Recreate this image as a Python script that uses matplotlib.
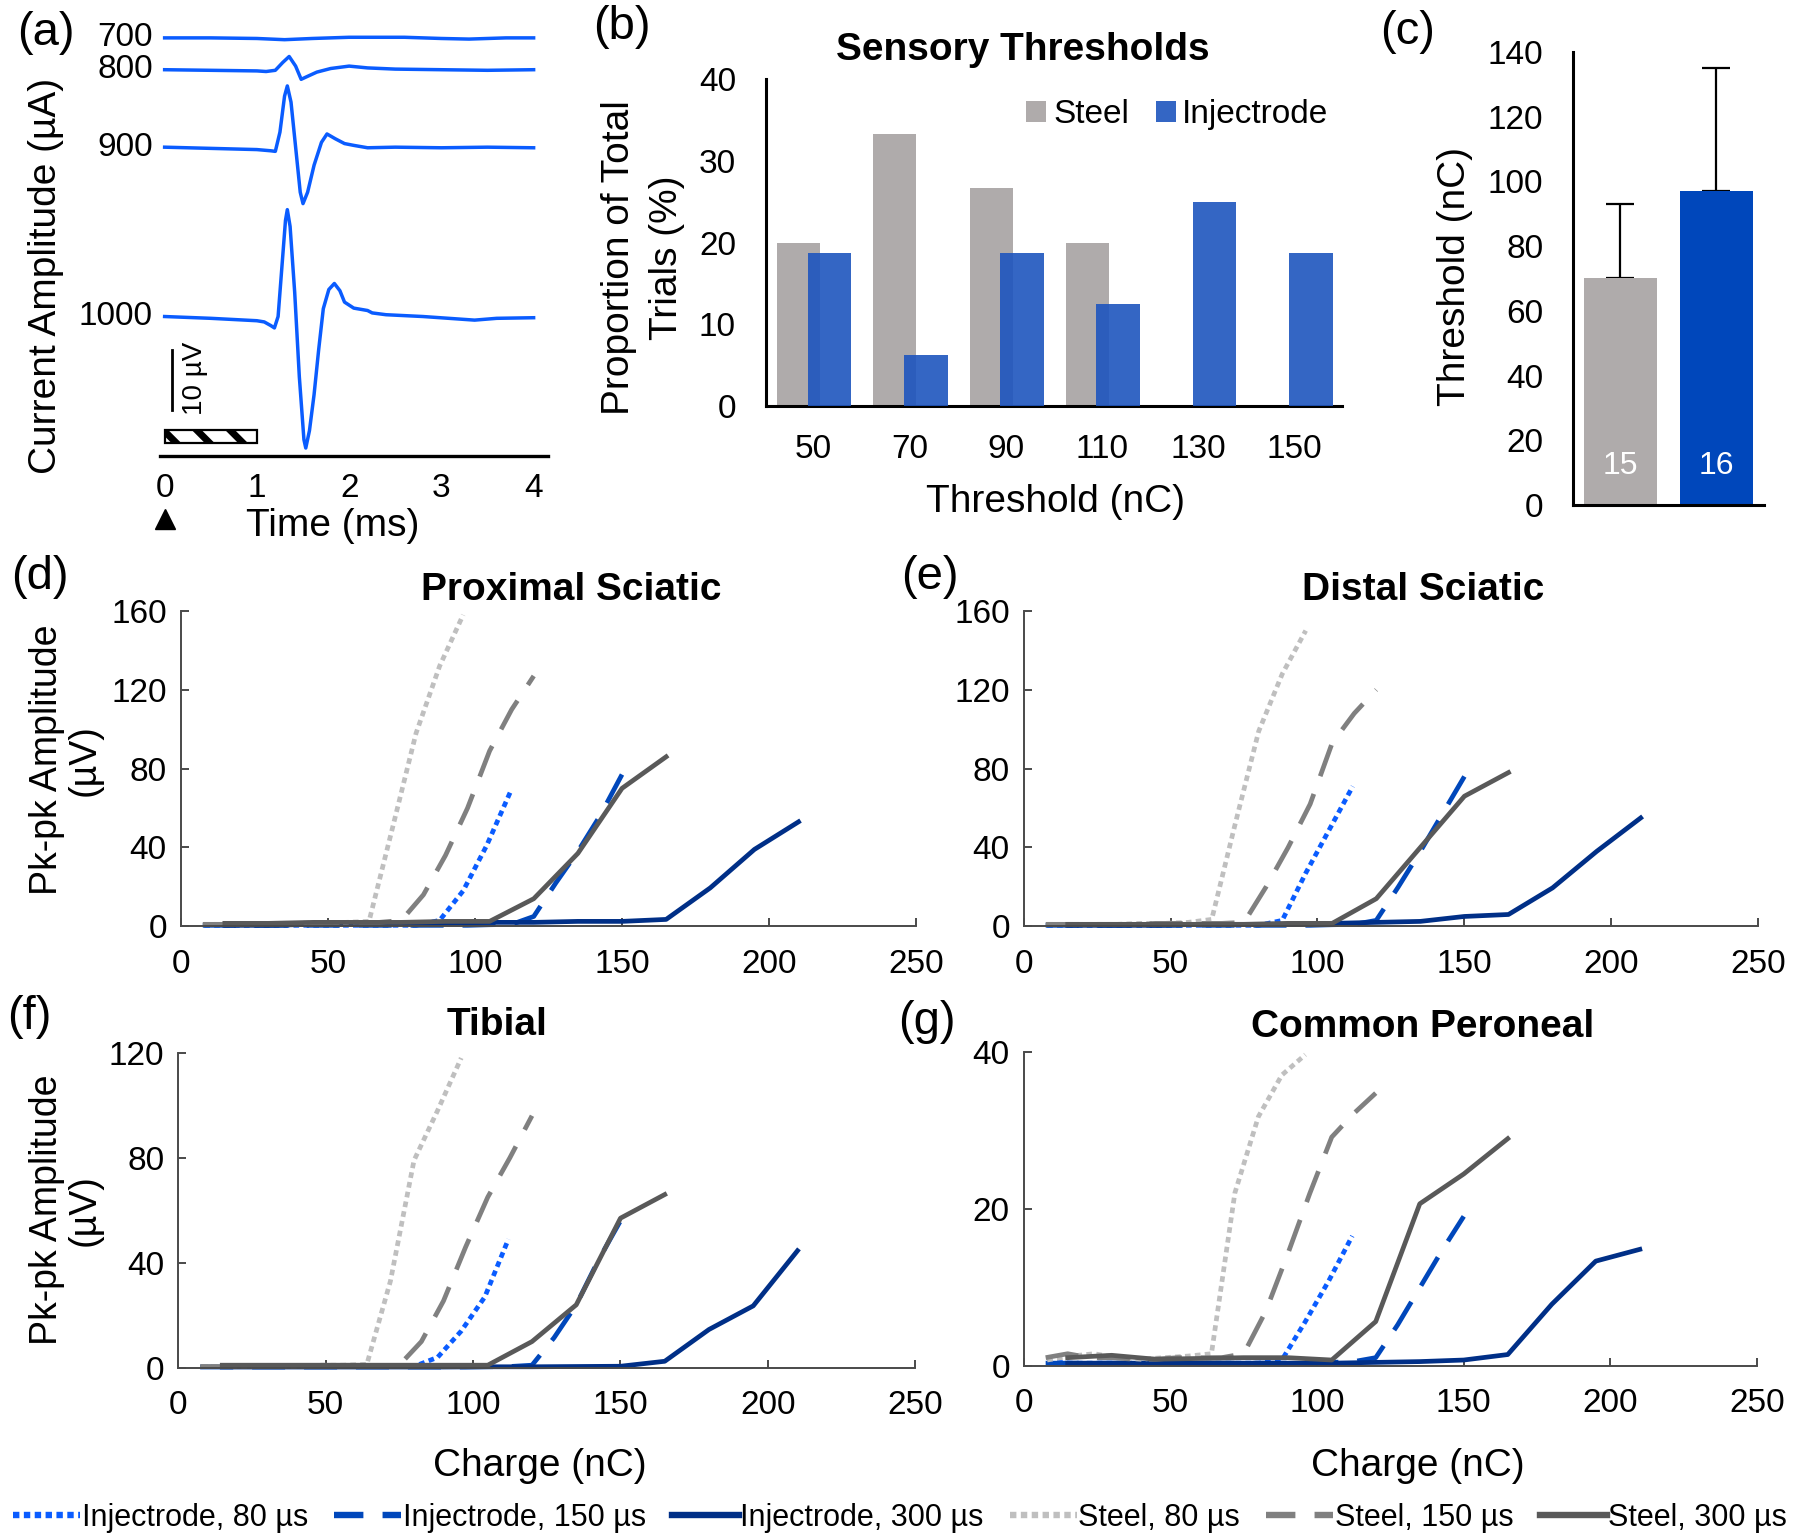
import matplotlib
matplotlib.use('Agg')
import matplotlib.pyplot as plt
from matplotlib.lines import Line2D
from matplotlib.patches import Rectangle
from matplotlib.transforms import blended_transform_factory
import numpy as np

plt.rcParams['font.family'] = ['Liberation Sans', 'DejaVu Sans']
plt.rcParams['hatch.linewidth'] = 5

# ---------------- (a) example traces ----------------
trace_labels = ['700', '800', '900', '1000']
t_700 = [0, 0.5, 1.0, 1.3, 1.6, 2.0, 2.6, 3.0, 3.3, 3.7, 4.0]
v_700 = [0, 0, -0.1, -0.3, -0.1, 0.1, 0.1, -0.1, -0.2, 0, 0]
t_800 = [0, 0.5, 1.0, 1.1, 1.2, 1.28, 1.35, 1.42, 1.48, 1.55, 1.65, 1.8, 2.0, 2.2, 2.5, 3.0, 3.5, 4.0]
v_800 = [0, -0.1, -0.2, -0.3, -0.1, 1.2, 2.2, 0.6, -1.6, -1.1, -0.4, 0.2, 0.6, 0.3, 0.1, 0, -0.1, 0]
t_900 = [0, 0.5, 1.0, 1.15, 1.2, 1.25, 1.3, 1.33, 1.37, 1.42, 1.47, 1.5, 1.55, 1.62, 1.7,
         1.76, 1.85, 1.95, 2.05, 2.2, 2.5, 3.0, 3.5, 4.0]
v_900 = [0, -0.2, -0.4, -0.6, -0.7, 2.5, 8.5, 10.2, 7.5, 0, -7.5, -9.4, -7.5, -3, 0.8,
         2.2, 1.4, 0.6, 0.3, -0.1, 0, -0.1, 0, -0.1]
t_1000 = [0, 0.5, 1.0, 1.08, 1.15, 1.19, 1.23, 1.27, 1.31, 1.33, 1.36, 1.41, 1.46, 1.51, 1.53,
          1.57, 1.62, 1.67, 1.72, 1.78, 1.84, 1.9, 1.95, 2.05, 2.2, 2.25, 2.4, 2.8, 3.36, 3.6, 4.0]
v_1000 = [0, -0.3, -0.7, -0.9, -1.5, -1.9, 0, 8, 16, 17.8, 15, 4, -10, -20.5, -21.9,
          -19, -13, -5.5, 1.3, 4.5, 5.5, 4.3, 2.4, 1.4, 1.0, 0.6, 0.3, 0, -0.6, -0.3, -0.2]
trace_offsets = [0, -5.3, -18.2, -46.4]          # vertical stacking (uV)
stim_start, stim_end = 0.0, 1.0                   # ms
scale_bar_uV = 10
time_ticks = [0, 1, 2, 3, 4]

# ---------------- (b) sensory thresholds ----------------
thr_categories = ['50', '70', '90', '110', '130', '150']
steel_pct = [20.0, 33.3, 26.7, 20.0, 0, 0]
injectrode_pct = [18.75, 6.25, 18.75, 12.5, 25.0, 18.75]

# ---------------- (c) mean thresholds ----------------
thr_groups = ['Steel', 'Injectrode']
thr_mean = [70, 97]
thr_sd = [23, 38]
thr_n = [15, 16]

# ---------------- (d-g) recruitment curves ----------------
charge_80 = [8, 16, 24, 32, 40, 48, 56, 64, 72, 80, 88, 96, 104, 112]
charge_150 = [7.5, 15, 22.5, 30, 37.5, 45, 52.5, 60, 67.5, 75, 82.5, 90, 97.5, 105,
              112.5, 120, 127.5, 135, 142.5, 150]
charge_300 = [15, 30, 45, 60, 75, 90, 105, 120, 135, 150, 165, 180, 195, 210]

# Proximal sciatic
ps_inj80 = [0.5, 0.5, 0.5, 0.5, 0.5, 0.5, 0.5, 0.5, 0.5, 0.5, 3, 18, 41, 68]
ps_inj150 = [0.5, 0.5, 0.5, 0.5, 0.5, 0.5, 0.5, 0.5, 0.5, 0.5, 0.5, 0.5, 0.5, 0.8, 1, 5, 22, 38, 56, 77]
ps_inj300 = [0.5, 0.5, 1, 1, 1.5, 1.5, 2, 2, 2.5, 2.5, 3.5, 19.5, 39, 53]
ps_st80 = [1, 1, 1, 1.5, 1.5, 2, 2, 2.5, 50, 98, 132, 158]
ps_st150 = [1, 1, 1, 1.5, 1.5, 1.5, 2, 2, 2, 3, 16, 36, 60, 89, 110, 127]
ps_st300 = [1.5, 1.5, 2, 2, 2, 2.5, 2.5, 14, 37, 70, 86]
# Distal sciatic
ds_inj80 = [0.5, 0.5, 0.5, 0.5, 0.5, 0.5, 0.5, 0.5, 0.5, 0.5, 3, 27, 49, 71]
ds_inj150 = [0.5, 0.5, 0.5, 0.5, 0.5, 0.5, 0.5, 0.5, 0.5, 0.5, 0.5, 0.5, 0.5, 0.8, 1, 3, 20, 38, 57, 76]
ds_inj300 = [0.5, 0.5, 0.5, 1, 1, 1, 1.5, 2, 2.5, 5, 6, 19.5, 38, 55]
ds_st80 = [1, 1, 1, 1, 1.5, 1.5, 2, 3.5, 52, 99, 128, 150]
ds_st150 = [1, 1, 1, 1, 1, 1.5, 1.5, 1.5, 1.5, 2, 20, 40, 62, 93, 108, 120]
ds_st300 = [1, 1, 1, 1, 1, 1.5, 1.5, 14, 40, 66, 78]
# Tibial
tb_inj80 = [0.5, 0.5, 0.5, 0.5, 0.5, 0.5, 0.5, 0.5, 0.5, 0.5, 4, 14, 27, 49]
tb_inj150 = [0.3, 0.3, 0.3, 0.3, 0.3, 0.3, 0.3, 0.3, 0.3, 0.3, 0.3, 0.3, 0.3, 0.4, 0.5, 1, 11.5, 24, 41, 56]
tb_inj300 = [0.3, 0.3, 0.3, 0.3, 0.3, 0.3, 0.4, 0.4, 0.5, 0.6, 2.5, 14.6, 23.6, 44.6]
tb_st80 = [0.5, 0.5, 0.5, 0.5, 0.5, 1, 1, 1.3, 33, 79, 98, 118]
tb_st150 = [0.5, 0.5, 0.5, 0.5, 0.5, 0.5, 0.5, 0.5, 0.5, 1, 10, 25.5, 46, 65, 80, 96]
tb_st300 = [1, 1, 1, 1, 1, 1, 1, 10, 24, 57, 66]
# Common peroneal
cp_inj80 = [0.5, 0.3, 0.3, 0.3, 0.3, 0.3, 0.3, 0.3, 0.3, 0.3, 0.7, 5.6, 10.8, 16.5]
cp_inj150 = [0.3, 0.3, 0.3, 0.3, 0.3, 0.3, 0.3, 0.3, 0.3, 0.3, 0.3, 0.3, 0.3, 0.4, 0.5, 1, 5.2, 9.9, 14.6, 19]
cp_inj300 = [0.3, 0.3, 0.3, 0.3, 0.3, 0.3, 0.3, 0.4, 0.5, 0.7, 1.4, 7.8, 13.3, 14.8]
cp_st80 = [0.7, 1.2, 1.5, 1.0, 0.8, 1.0, 1.2, 1.5, 22, 31.7, 37, 39.6]
cp_st150 = [1, 1.5, 1, 1, 0.8, 0.8, 1, 1, 1, 1.5, 6.9, 14.2, 21.9, 29.1, 32.1, 34.7]
cp_st300 = [1, 1.3, 0.8, 0.9, 1, 1, 0.7, 5.6, 20.6, 24.4, 28.9]

series_labels = ['Injectrode, 80 µs', 'Injectrode, 150 µs', 'Injectrode, 300 µs',
                 'Steel, 80 µs', 'Steel, 150 µs', 'Steel, 300 µs']
nerve_titles = ['Proximal Sciatic', 'Distal Sciatic', 'Tibial', 'Common Peroneal']
charge_ticks = [0, 50, 100, 150, 200, 250]

# ---------------- styles ----------------
C_STEEL_BAR = '#AFABAB'
C_INJ_BAR = '#1E55BE'
C_INJ_BAR_C = '#0047BB'
series_styles = [
    dict(color='#0A5CFF', ls=(0, (1.2, 0.9)), lls=(0, (1.0, 0.7))),
    dict(color='#0047BB', ls=(0, (7, 4)), lls=(0, (4.6, 3.0))),
    dict(color='#002F87', ls='-', lls='-'),
    dict(color='#BFBFBF', ls=(0, (1.2, 0.9)), lls=(0, (1.0, 0.7))),
    dict(color='#808080', ls=(0, (7, 4)), lls=(0, (4.6, 3.0))),
    dict(color='#595959', ls='-', lls='-'),
]
series_charges = [charge_80, charge_150, charge_300, charge_80, charge_150, charge_300]
LW = 3.4

fig = plt.figure(figsize=(18, 15.4), dpi=100)

def flabel(x, y, s, **kw):
    fig.text(x / 1800, 1 - y / 1540, s, **kw)

# ---------------- panel (a) ----------------
axA = fig.add_axes([0.0889, 0.704, 0.2155, 0.2831])
axA.set_xlim(-0.05, 4.155)
axA.set_ylim(-69.6, 3)
for lab, t, v, off in zip(trace_labels, [t_700, t_800, t_900, t_1000],
                          [v_700, v_800, v_900, v_1000], trace_offsets):
    axA.plot(t, np.array(v) + off, color='#0A5CFF', lw=2.5, solid_joinstyle='round')
    axA.text(-0.13, off, lab, ha='right', va='center', fontsize=24)
axA.add_patch(Rectangle((stim_start, -67.5), stim_end - stim_start, 2.2, fill=False,
                        hatch='\\', edgecolor='black', lw=1.6))
axA.plot([0.08, 0.08], [-62, -62 + scale_bar_uV], color='black', lw=2)
axA.text(0.33, -56.7, '10 µV', rotation=90, ha='center', va='center', fontsize=20)
for s in ['top', 'right', 'left']:
    axA.spines[s].set_visible(False)
axA.spines['bottom'].set_linewidth(2.4)
axA.set_xticks(time_ticks)
axA.set_yticks([])
axA.tick_params(axis='x', length=0, pad=12, labelsize=24)
trA = blended_transform_factory(axA.transData, axA.transAxes)
axA.plot([0], [-0.145], marker='^', ms=15, color='black', transform=trA, clip_on=False)
flabel(333, 526, 'Time (ms)', ha='center', va='center', fontsize=28)
flabel(46, 276, 'Current Amplitude (µA)', ha='center', va='center', rotation=90, fontsize=28)

# ---------------- panel (b) ----------------
axB = fig.add_axes([0.4258, 0.7364, 0.3197, 0.2122])
xb = np.arange(len(thr_categories))
axB.bar(xb - 0.155, steel_pct, width=0.445, color=C_STEEL_BAR, label='Steel', zorder=2)
axB.bar(xb + 0.165, injectrode_pct, width=0.455, color=C_INJ_BAR, alpha=0.9,
        label='Injectrode', zorder=3)
axB.set_xlim(-0.49, 5.49)
axB.set_ylim(0, 40)
axB.set_yticks([0, 10, 20, 30, 40])
axB.set_xticks(xb)
axB.set_xticklabels(thr_categories)
for s in ['top', 'right']:
    axB.spines[s].set_visible(False)
for s in ['left', 'bottom']:
    axB.spines[s].set_linewidth(2.2)
axB.tick_params(axis='both', length=0, labelsize=24)
axB.tick_params(axis='y', pad=22)
axB.tick_params(axis='x', pad=20)
axB.legend(loc='upper right', bbox_to_anchor=(1.0, 0.98), ncol=2, frameon=False, fontsize=24,
           handlelength=0.6, handleheight=0.6, handletextpad=0.2, columnspacing=0.8,
           borderaxespad=0)
flabel(1023, 50, 'Sensory Thresholds', ha='center', va='center', fontsize=28, fontweight='bold')
flabel(1055, 502, 'Threshold (nC)', ha='center', va='center', fontsize=28)
flabel(643, 258, 'Proportion of Total\nTrials (%)', ha='center', va='center', rotation=90,
       fontsize=28, linespacing=1.4)

# ---------------- panel (c) ----------------
axC = fig.add_axes([0.8737, 0.672, 0.1063, 0.2944])
axC.bar([0, 1], thr_mean, width=0.76, color=[C_STEEL_BAR, C_INJ_BAR_C], zorder=2,
        yerr=[[0, 0], thr_sd], capsize=10,
        error_kw=dict(lw=1.6, capthick=1.6, ecolor='black', zorder=1))
for i, n in enumerate(thr_n):
    axC.text(i, 12, str(n), color='white', ha='center', va='center', fontsize=23)
axC.set_xlim(-0.5, 1.5)
axC.set_ylim(0, 140)
axC.set_yticks(range(0, 141, 20))
axC.set_xticks([])
for s in ['top', 'right']:
    axC.spines[s].set_visible(False)
for s in ['left', 'bottom']:
    axC.spines[s].set_linewidth(2.2)
axC.tick_params(axis='y', length=0, labelsize=24, pad=21)
flabel(1455, 276, 'Threshold (nC)', ha='center', va='center', rotation=90, fontsize=28)

# ---------------- panels (d-g) ----------------
panel_data = [
    [ps_inj80, ps_inj150, ps_inj300, ps_st80, ps_st150, ps_st300],
    [ds_inj80, ds_inj150, ds_inj300, ds_st80, ds_st150, ds_st300],
    [tb_inj80, tb_inj150, tb_inj300, tb_st80, tb_st150, tb_st300],
    [cp_inj80, cp_inj150, cp_inj300, cp_st80, cp_st150, cp_st300],
]
panel_rects = [
    [0.1004, 0.3985, 0.4086, 0.2048],
    [0.5687, 0.3985, 0.4081, 0.2048],
    [0.0989, 0.1118, 0.4097, 0.2046],
    [0.5687, 0.1133, 0.4075, 0.2039],
]
panel_yticks = [[0, 40, 80, 120, 160], [0, 40, 80, 120, 160], [0, 40, 80, 120], [0, 20, 40]]
title_pos = [(571, 590), (1423, 590), (497, 1025), (1423, 1027)]
AX_GRAY = '#4A4A4A'
for rect, data, yt, title, tp in zip(panel_rects, panel_data, panel_yticks, nerve_titles, title_pos):
    ax = fig.add_axes(rect)
    for vals, xs, st in zip(data, series_charges, series_styles):
        ax.plot(xs[:len(vals)], vals, color=st['color'], ls=st['ls'], lw=LW,
                solid_joinstyle='round', clip_on=False)
    ax.set_xlim(0, 250)
    ax.set_ylim(0, yt[-1])
    ax.set_xticks(charge_ticks)
    ax.set_yticks(yt)
    for s in ['top', 'right']:
        ax.spines[s].set_visible(False)
    for s in ['left', 'bottom']:
        ax.spines[s].set_color(AX_GRAY)
        ax.spines[s].set_linewidth(1.4)
    ax.tick_params(direction='in', length=6, width=1.4, color=AX_GRAY, labelsize=24)
    ax.tick_params(axis='x', pad=16)
    ax.tick_params(axis='y', pad=10)
    flabel(tp[0], tp[1], title, ha='center', va='center', fontsize=28, fontweight='bold')

flabel(66, 760, 'Pk-pk Amplitude\n(µV)', ha='center', va='center', rotation=90, fontsize=27,
       linespacing=1.05)
flabel(66, 1210, 'Pk-pk Amplitude\n(µV)', ha='center', va='center', rotation=90, fontsize=27,
       linespacing=1.05)
flabel(540, 1466, 'Charge (nC)', ha='center', va='center', fontsize=28)
flabel(1418, 1466, 'Charge (nC)', ha='center', va='center', fontsize=28)

# panel letters
for lab, (px, py) in zip(['(a)', '(b)', '(c)', '(d)', '(e)', '(f)', '(g)'],
                         [(46, 33), (622, 27), (1408, 32), (40, 577), (930, 577), (29, 1017), (927, 1022)]):
    flabel(px, py, lab, ha='center', va='center', fontsize=34)

# legend
handles = [Line2D([0], [0], color=st['color'], ls=st['lls'], lw=4.6) for st in series_styles]
fig.legend(handles, series_labels, loc='center', bbox_to_anchor=(0.5, 1 - 1518 / 1540), ncol=6,
           frameon=False, fontsize=22, handlelength=2.2, handletextpad=0.05, columnspacing=0.85,
           borderaxespad=0)

fig.savefig('out.png', dpi=100)
